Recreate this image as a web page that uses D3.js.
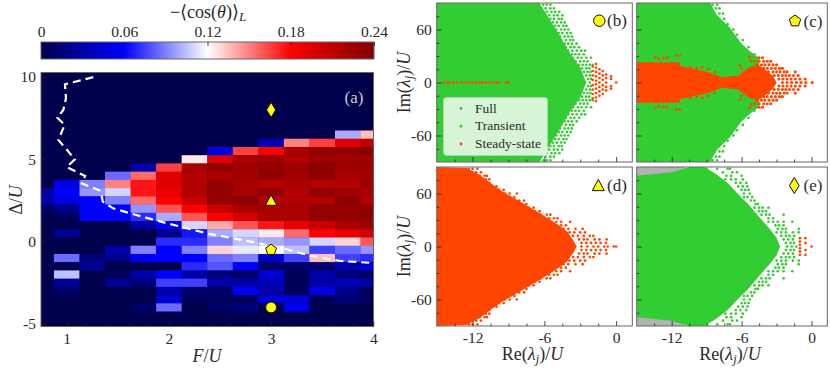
<!DOCTYPE html>
<html>
<head>
<meta charset="utf-8">
<script src="https://cdn.jsdelivr.net/npm/d3@7"></script>
<style>
html,body{margin:0;padding:0;background:#fff}
text{font-family:"Liberation Serif",serif;fill:#2a2a2a}
</style>
</head>
<body>
<div id="pic"></div>
<script>
// heat map, left panel
var fValues = [0.75,1,1.25,1.5,1.75,2,2.25,2.5,2.75,3,3.25,3.5,3.75,4];
var deltaValues = [6.5,6,5.5,5,4.5,4,3.5,3,2.5,2,1.5,1,0.5,0,-0.5,-1,-1.5,-2,-2.5,-3,-3.5,-4,-4.5,-5];
var cosGrid = [
 [0,0,0,0,0,0,0,0,0,0,0,0,.1,.135],
 [0,0,0,0,0,0,0,0,0,.035,.15,.165,.195,.21],
 [0,0,0,0,0,0,0,.05,.165,.18,.22,.23,.23,.235],
 [0,0,0,0,0,0,.125,.195,.22,.225,.215,.225,.225,.225],
 [0,0,0,0,.03,.165,.22,.23,.225,.23,.225,.235,.225,.225],
 [0,0,0,.085,.155,.195,.215,.22,.225,.232,.225,.232,.22,.225],
 [0,.05,.09,.15,.175,.195,.215,.23,.22,.215,.22,.215,.215,.225],
 [.03,.06,.095,.11,.175,.19,.215,.23,.22,.23,.215,.23,.225,.22],
 [.03,.05,.06,.09,.155,.18,.205,.23,.232,.215,.215,.215,.232,.215],
 [.01,.02,.06,.06,.095,.16,.18,.205,.22,.22,.22,.23,.23,.232],
 [0,.005,.06,.06,.07,.1,.16,.18,.2,.22,.22,.23,.23,.232],
 [0,0,0,0,.03,.055,.11,.14,.16,.175,.19,.205,.22,.225],
 [0,.025,0,0,0,.02,.065,.1,.11,.125,.155,.18,.19,.2],
 [.003,0,0,0,0,.07,.07,.09,.105,.1,.095,.11,.13,.16],
 [0,0,0,.03,.09,.06,.09,.13,.115,.12,.105,.075,.085,.095],
 [0,.085,.015,.02,.055,.06,.06,.085,.09,.04,.075,.135,.075,.07],
 [0,0,.025,0,0,0,.07,.08,.06,.01,.01,.01,.03,.05],
 [0,.105,0,.005,.03,.06,.03,.015,.01,.045,.005,.03,.015,.01],
 [0,.025,0,.025,.015,.075,.075,.03,.03,.035,.005,.03,.035,.03],
 [0,.01,0,0,0,.03,.01,.01,.055,.03,.005,.05,.02,.005],
 [0,0,0,0,0,.045,.005,.005,.005,.045,.045,.005,.015,.005],
 [0,0,0,0,.01,.085,0,.01,.015,.002,.055,0,0,0],
 [0,0,0,0,0,0,0,0,0,0,0,0,0,0],
 [0,0,0,0,0,0,0,0,0,0,0,0,0,0]
];
var boundaryF = [1.26,.983,.993,.967,.908,.98,.918,1.08,1,1.18,1.147,1.333,1.353,1.454,1.62,1.947,2.373,2.8,3.12,3.385,3.68,4];
var boundaryDelta = [9.99,9.56,8.71,8,7.53,7.09,6.18,5,4.53,3.99,3.54,3.08,2.43,2.02,1.72,1.17,.5,0,-.41,-.86,-1.18,-1.3];
var colorTicks = [0,0.06,0.12,0.18,0.24];
var markerF = [3,3,3,3];
var markerDelta = [-4,-0.5,2.5,8];
var markerKinds = ["circle","pentagon","triangle","diamond"];

// spectra, right panels. each cloud is the upper half: eigenvalues come in conjugate pairs
// hull = edge of the solid part of the cloud, fringe = loose points read row by row [Im, [Re...]]
var hullB = [[-15,90],[-6.4,90],[-5.5,70],[-4.8,55],[-4,36],[-3,17],[-2.5,0]];
var fringeB = [
 [88,[-6.1,-5.8,-5.5]],[84,[-5.9,-5.5,-5.2]],[80,[-5.8,-5.4,-5.1,-4.75]],
 [76,[-5.6,-5.2,-4.9,-4.5]],[72,[-5.5,-5.2,-4.8,-4.55]],[68,[-5.3,-4.95,-4.6,-4.3]],
 [64,[-5.1,-4.8,-4.4,-4.15]],[60,[-5,-4.6,-4.3,-4]],[56,[-4.8,-4.5,-4.1,-3.8]],
 [52,[-4.7,-4.3,-4,-3.7]],[48,[-4.6,-4.2,-3.85,-3.6]],[44,[-4.3,-4,-3.7,-3.3]],
 [40,[-4.2,-3.8,-3.5,-3.1]],[36,[-4,-3.65,-3.3,-2.9,-2.6]],[32,[-3.7,-3.4,-3.1,-2.7]],
 [28,[-3.6,-3.2,-2.9,-2.5,-2.1]],[24,[-3.4,-3,-2.7,-2.4]],[20,[-3.1,-2.8,-2.5,-2.2,-1.95]],
 [16,[-2.85,-2.5,-2.25]],[12,[-2.7,-2.4,-2.15]],[8,[-2.5,-2.2]],[4,[-2.35,-2.1]],[0,[-2.2]]
];
var steadyB = [[-1.96,3],[-1.96,8],[-1.96,13],[-1.96,18],[-1.68,2],[-1.68,7],[-1.68,12],[-1.68,17],[-1.68,21],[-1.4,0],[-1.4,5],[-1.4,10],[-1.4,15],[-1.12,3],[-1.12,8],[-1.12,13],[-.84,0],[-.84,5],[-.84,9],[-.42,4],[-.42,7],[0,0]];
var chainB = [-14.4,-14.1,-13.9,-13.6,-13.3,-12.9,-12.6,-12.3,-12,-11.7,-11.4,-11.2,-10.9,-10.6,-10.3,-10,-9.8,-9.2,-9];
var hullC = [[-15,90],[-8.7,90],[-8.1,76],[-7,62],[-6,44],[-5.14,34],[-4.5,28],[-4.4,0]];
var fringeC = [[88,[-8.5,-8.1]],[84,[-8.2,-7.9]],[78,[-7.9,-7.6]],[72,[-7.5]],[66,[-7.2]],[60,[-6.7]],[54,[-6.4]],[48,[-5.9]],[40,[-5.4]],[32,[-4.9]]];
var steadyHullC = [[-15,23],[-11.3,23],[-11.3,19],[-8.9,12],[-7.7,6],[-6.3,8],[-5.4,17],[-4.6,20],[-3.9,14],[-3.3,7],[-3,0]];
var steadyC = [[-13.4,28.6],[-13.1,26.7],[-12.7,27.8],[-12.4,27.8],[-11.6,30.5],[-11.3,30.5],[-10.9,15.4],[-10.4,17.3],[-9.86,16.2],[-9.37,17.3],[-8.86,15.4],[-8.3,11.7],[-6.14,19],[-6,15.4],[-5.3,28.6],[-5.2,24.8]];
var fringeSteadyC = [
 [28,[-4.5,-4.2]],[24,[-4.9,-4.5,-4.1,-3.8,-3.5]],[20,[-4.7,-4.3,-4,-3.65,-3.3,-3]],
 [16,[-4.5,-4.1,-3.8,-3.45,-3.1,-2.75,-2.5]],[12,[-4,-3.7,-3.3,-3,-2.7,-2.35,-2.1,-1.4]],
 [8,[-3.2,-2.85,-2.5,-2.2,-1.9,-1.55,-1.15]],[4,[-2.8,-2.45,-2.1,-1.75,-1.4,-1,-.55]],[0,[-2.5,-2.1,-1.7,-1.3,-.9,-.5,.05]]
];
var hullD = [[-15,90],[-12.5,89],[-11.4,81],[-9.7,64],[-7.8,49],[-6.4,38],[-5,26],[-4.1,17],[-3.6,7.5],[-3.3,0]];
var fringeD = [
 [88,[-12.3,-12,-11.6]],[84,[-12,-11.7,-11.3]],[80,[-11.4,-11,-10.8]],[76,[-11.3,-10.9,-10.6]],[72,[-10.9,-10.6]],
 [68,[-10.4,-10]],[64,[-9.8,-9.4]],[60,[-9.3,-8.9,-8.3]],[56,[-8.9,-8.5]],[52,[-8.5,-8.1,-7.7]],[48,[-7.9,-7.5]],
 [44,[-7.3,-6.9]],[40,[-6.8,-6.4]],[36,[-6.3,-5.8,-5.5]],[32,[-5.6,-5.2,-4.9]],[28,[-5,-4.6,-3.85]],[24,[-4.6,-4.2]],
 [20,[-4.4,-4,-3.4,-2.8]],[16,[-3.9,-3.5,-3,-2.6]],[12,[-3.6,-3.2,-2.7,-2.2,-1.9]],[8,[-3.1,-2.7,-2.4,-1.8,-1.4,-.8]],
 [4,[-2.9,-2.5,-2.1,-1.7,-1.3,-.85]],[0,[-2.9,-2.4,-1.9,-1.5,-1,-.7,-.2,0]]
];
var hullE = [[-15,80],[-12,84],[-10.5,90],[-9.2,90],[-8.2,82],[-7.2,72],[-6.2,58],[-5.3,46],[-4.4,32],[-3.6,20],[-3,10],[-2.7,0]];
var fringeE = [
 [88,[-9,-8.1,-7.2,-7]],[84,[-7.6,-6.8,-6.4]],[80,[-7.3,-6.9,-6]],[76,[-7.4,-6.9,-6.5,-5.9]],
 [72,[-6.5,-6.1,-5.6]],[68,[-6.3,-5.9,-5.5]],[64,[-6,-5.7,-5.4]],[60,[-5.8,-5.3]],
 [56,[-5.8,-5.5,-5.1]],[52,[-5.2,-4.9]],[48,[-4.8,-4.6]],[44,[-4.9,-4.5,-4.2,-3.7]],
 [40,[-4.5,-4.2,-3.9]],[36,[-4.3,-3.9,-3.6,-2.4]],[32,[-3.7,-3.3]],[28,[-3.7,-3.3,-2.9,-2.4,-1.65]],
 [24,[-3.1,-2.8,-2.4]],[20,[-2.9,-2.5,-2.2,-1.1]],[16,[-3,-2.6,-2.2,-1.6,-1.1]],
 [12,[-2.6,-2.2,-1.9,-1.5]],[8,[-2.4,-2,-1.6]],[4,[-2.2,-1.8,-1.5]],[0,[-2.1,-1.7,-1.3]]
];
var steadyE = [[-1,9.4],[-1,5.6],[-1,2],[-.52,9.4],[-.52,4],[0,0]];
var fullHullE = [[-15,90],[-10.9,90]];

var xLim = [-15,1.35], yLim = [-90,90];

var svg = d3.select("#pic").append("svg").attr("width",830).attr("height",368);
var defs = svg.append("defs");
var seismic = d3.scaleLinear().domain(colorTicks).range(["rgb(0,0,77)","rgb(0,0,255)","rgb(255,255,255)","rgb(255,0,0)","rgb(128,0,0)"]);

function drawMarker(g, kind, x, y, r) {
  var node;
  if (kind=="pentagon") {
    var pts = d3.range(5).map(function(i){ var a=-Math.PI/2+i*2*Math.PI/5; return [r*1.05*Math.cos(a),r*1.05*Math.sin(a)]; });
    node = g.append("polygon").attr("points",pts.join(" "));
  } else if (kind=="diamond") {
    node = g.append("polygon").attr("points",[[0,-r*1.4],[r*.85,0],[0,r*1.4],[-r*.85,0]].join(" "));
  } else if (kind=="triangle") {
    node = g.append("polygon").attr("points",[[0,-r*1.05],[r*1.05,r*.9],[-r*1.05,r*.9]].join(" "));
  } else {
    node = g.append("circle").attr("r",r);
  }
  node.attr("transform","translate("+x+","+y+")").attr("fill","#ffff00").attr("stroke","#111").attr("stroke-width",1);
}

function frame(g, x0, x1, y0, y1) {
  g.append("rect").attr("x",x0).attr("y",y0).attr("width",x1-x0).attr("height",y1-y0)
    .attr("fill","none").attr("stroke","#666").attr("stroke-width",1);
}

function inTicks(g, axis, tx, ty) {
  var a = g.append("g").attr("transform","translate("+tx+","+ty+")").call(axis);
  a.select(".domain").remove();
  a.selectAll("line").attr("stroke","#222").attr("stroke-width",0.8);
  a.selectAll("text").style("font-size","15.5px").style("font-family","'Liberation Serif',serif").attr("fill","#2a2a2a");
  return a;
}

function expand(rows) {
  var out = [];
  rows.forEach(function(r){ r[1].forEach(function(re){ out.push([re,r[0]]); }); });
  return out;
}

// ---------- colorbar
var cbX = d3.scaleLinear().domain([0,0.24]).range([41,374]);
var grad = defs.append("linearGradient").attr("id","seismicGrad");
colorTicks.forEach(function(v,i){
  grad.append("stop").attr("offset",(i*25)+"%").attr("stop-color",seismic(v));
});
svg.append("rect").attr("x",41).attr("y",42).attr("width",333).attr("height",17).attr("fill","url(#seismicGrad)");
frame(svg,41,374,42,59);
inTicks(svg, d3.axisTop(cbX).tickValues(colorTicks).tickSize(-4).tickPadding(5.5)
  .tickFormat(function(d){ return d==0?"0":d3.format(".2f")(d); }), 0, 42);
var cbTitle = svg.append("text").attr("x",208).attr("y",18).attr("text-anchor","middle").style("font-size","18px");
cbTitle.append("tspan").text("\u2212\u27E8cos(");
cbTitle.append("tspan").style("font-style","italic").text("\u03B8");
cbTitle.append("tspan").text(")\u27E9");
cbTitle.append("tspan").style("font-style","italic").style("font-size","13px").attr("dy",3).text("L");

// ---------- heat map
var hx = d3.scaleLinear().domain([1,4]).range([66.7,373.3]);
var hy = d3.scaleLinear().domain([0,10]).range([241.6,77]);
var heat = svg.append("g");
heat.append("rect").attr("x",41).attr("y",72.5).attr("width",332.5).attr("height",254).attr("fill",seismic(0));
defs.append("clipPath").attr("id","heatClip").append("rect").attr("x",41).attr("y",72.5).attr("width",332.5).attr("height",254);
var cells = heat.append("g").attr("clip-path","url(#heatClip)");
cosGrid.forEach(function(row,i){
  cells.selectAll(null).data(row).join("rect")
    .attr("x",function(d,j){ return hx(fValues[j]-0.125); })
    .attr("width",hx(1.25)-hx(1)+0.3)
    .attr("y",hy(deltaValues[i]+0.25))
    .attr("height",hy(0)-hy(0.5)+0.3)
    .attr("fill",function(d){ return seismic(d); });
});
var line = d3.line().x(function(d){ return hx(d[0]); }).y(function(d){ return hy(d[1]); });
heat.append("path").attr("clip-path","url(#heatClip)")
  .attr("d",line(d3.zip(boundaryF,boundaryDelta)))
  .attr("fill","none").attr("stroke","#fff").attr("stroke-width",2.2).attr("stroke-dasharray","8,5");
markerKinds.forEach(function(k,i){
  drawMarker(heat,k,hx(markerF[i]),hy(markerDelta[i]),5.4);
});
svg.append("text").attr("x",354).attr("y",103).attr("text-anchor","middle").style("font-size","17px").style("fill","#ccc").text("(a)");
frame(svg,41,373.5,72.5,326.5);

var hxMinor = d3.range(0.8,4,0.2).filter(function(v){ return Math.abs(v-Math.round(v))>0.01; });
inTicks(svg,d3.axisBottom(hx).tickValues(hxMinor).tickSize(-2.5).tickFormat(""),0,326.5);
inTicks(svg,d3.axisBottom(hx).tickValues([1,2,3,4]).tickSize(-5).tickPadding(6).tickFormat(d3.format("d")),0,326.5);
inTicks(svg,d3.axisLeft(hy).tickValues([-5,0,5,10]).tickSize(-5).tickPadding(5).tickFormat(function(d){ return String(d); }),41,0);
var fLabel = svg.append("text").attr("x",207).attr("y",362).attr("text-anchor","middle").style("font-size","18px");
fLabel.append("tspan").style("font-style","italic").text("F");
fLabel.append("tspan").text("/");
fLabel.append("tspan").style("font-style","italic").text("U");
var dLabel = svg.append("text").attr("transform","translate(22,200) rotate(-90)").attr("text-anchor","middle").style("font-size","18px");
dLabel.append("tspan").text("\u0394/");
dLabel.append("tspan").style("font-style","italic").text("U");

// ---------- spectra
var COL = {full:"#888888",transient:"#32cd32",steady:"#ff4500"};

function conj(list) {
  var out = [];
  list.forEach(function(p){ out.push(p); if (p[1]!=0) out.push([p[0],-p[1]]); });
  return out;
}

function lambdaLabel(t, head) {
  t.append("tspan").text(head+"(");
  t.append("tspan").style("font-style","italic").text("\u03BB");
  t.append("tspan").style("font-style","italic").style("font-size","12.5px").attr("dy",3).text("j");
  t.append("tspan").attr("dy",-3).text(")/");
  t.append("tspan").style("font-style","italic").text("U");
}

function panel(o) {
  var x = d3.scaleLinear().domain(xLim).range([o.x0,o.x1]);
  var y = d3.scaleLinear().domain(yLim).range([o.y1,o.y0]);
  var id = "clip"+o.name;
  defs.append("clipPath").attr("id",id).append("rect").attr("x",o.x0).attr("y",o.y0).attr("width",o.x1-o.x0).attr("height",o.y1-o.y0);
  var g = svg.append("g");
  var plot = g.append("g").attr("clip-path","url(#"+id+")");
  var area = d3.area().x(function(d){ return x(d[0]); }).y0(function(d){ return y(-d[1]); }).y1(function(d){ return y(d[1]); });

  (o.layers||[]).forEach(function(l){
    if (l.full) {
      plot.append("path").attr("d",d3.area().x(function(d){ return x(d[0]); }).y0(y(l.full)).y1(y(90))(l.hull)).attr("fill",COL.full).attr("opacity",.65);
      plot.append("path").attr("d",d3.area().x(function(d){ return x(d[0]); }).y0(y(-l.full)).y1(y(-90))(l.hull)).attr("fill",COL.full).attr("opacity",.65);
      return;
    }
    if (l.hull) plot.append("path").attr("d",area(l.hull)).attr("fill",COL[l.kind]);
    if (l.dots) plot.selectAll(null).data(conj(l.dots)).join("circle")
      .attr("cx",function(d){ return x(d[0]); }).attr("cy",function(d){ return y(d[1]); })
      .attr("r",l.r||1.35).attr("fill",COL[l.kind]);
  });

  frame(g,o.x0,o.x1,o.y0,o.y1);
  inTicks(g,d3.axisLeft(y).tickValues(d3.range(-75,90,15).filter(function(v){return v%60!=0;})).tickSize(-2.5).tickFormat(""),o.x0,0);
  inTicks(g,d3.axisBottom(x).tickValues(d3.range(-13.5,1,1.5).filter(function(v){return v%6!=0;})).tickSize(-2.5).tickFormat(""),0,o.y1);
  inTicks(g,d3.axisLeft(y).tickValues([-60,0,60]).tickSize(-5).tickPadding(5).tickFormat(o.yLabels?function(d){ return String(d); }:""),o.x0,0);
  inTicks(g,d3.axisBottom(x).tickValues([-12,-6,0]).tickSize(-5).tickPadding(5.5).tickFormat(o.xLabels?function(d){ return String(d); }:""),0,o.y1);

  drawMarker(g,o.marker,o.mx,o.my,5.7);
  g.append("text").attr("x",o.lx).attr("y",o.my+5.5).attr("text-anchor","middle").style("font-size","17px").text(o.label);

  if (o.yLabels) {
    var t = g.append("text").attr("transform","translate("+(o.x0-27)+","+((o.y0+o.y1)/2)+") rotate(-90)").attr("text-anchor","middle").style("font-size","18px");
    lambdaLabel(t,"Im");
  }
  if (o.xLabels) {
    var b = g.append("text").attr("x",(o.x0+o.x1)/2-2).attr("y",o.y1+34).attr("text-anchor","middle").style("font-size","18px");
    lambdaLabel(b,"Re");
  }
  return g;
}

panel({name:"b",x0:436.7,x1:632.3,y0:3,y1:162,marker:"circle",mx:599.3,my:20.7,lx:617,label:"(b)",yLabels:true,
  layers:[{kind:"transient",hull:hullB,dots:expand(fringeB)},{kind:"steady",dots:steadyB},{kind:"steady",dots:chainB.map(function(v){return [v,0];})}]});
panel({name:"c",x0:636.7,x1:827.3,y0:3,y1:162,marker:"pentagon",mx:795,my:21,lx:813,label:"(c)",
  layers:[{kind:"transient",hull:hullC,dots:expand(fringeC)},{kind:"steady",hull:steadyHullC,dots:steadyC},{kind:"steady",dots:expand(fringeSteadyC),r:1.55}]});
panel({name:"d",x0:436.7,x1:632.3,y0:167,y1:326,marker:"triangle",mx:598.3,my:185.5,lx:617,label:"(d)",yLabels:true,xLabels:true,
  layers:[{kind:"steady",hull:hullD,dots:expand(fringeD)}]});
panel({name:"e",x0:636.7,x1:827.3,y0:167,y1:326,marker:"diamond",mx:794.3,my:185.5,lx:813,label:"(e)",xLabels:true,
  layers:[{full:78,hull:fullHullE},{kind:"transient",hull:hullE,dots:expand(fringeE)},{kind:"steady",dots:steadyE}]});

// legend sits in panel (b)
var legend = svg.append("g");
legend.append("rect").attr("x",443.5).attr("y",97.5).attr("width",104).attr("height",58).attr("rx",3)
  .attr("fill","#fff").attr("fill-opacity",.8).attr("stroke","#ccc").attr("stroke-width",.6);
var legY = d3.scalePoint().domain(["Full","Transient","Steady-state"]).range([108.5,144]);
legY.domain().forEach(function(n,i){
  legend.append("circle").attr("cx",461).attr("cy",legY(n)).attr("r",1.4).attr("fill",[COL.full,COL.transient,COL.steady][i]);
  legend.append("text").attr("x",475).attr("y",legY(n)+4).style("font-size","13.5px").text(n);
});
</script>
</body>
</html>
